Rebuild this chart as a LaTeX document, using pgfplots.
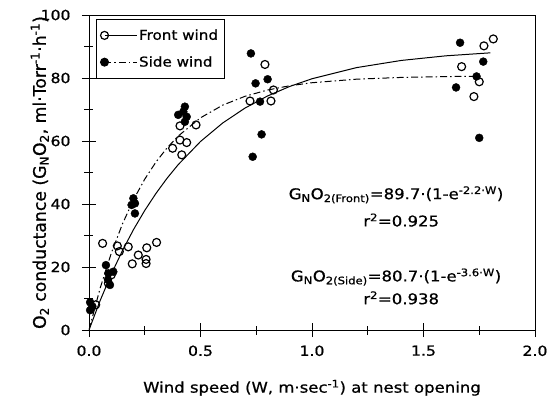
\documentclass[border=0pt]{standalone}
\usepackage{fontspec}
\setmainfont{DejaVu Sans}[FakeBold=0.8]
\newfontfamily\wide[FakeStretch=1.12,FakeBold=0.8]{DejaVu Sans}
\usepackage{pgfplots}
\pgfplotsset{compat=1.18}
\begin{document}
\begin{tikzpicture}
\begin{axis}[
 scale only axis, width=446bp, height=315bp,
 xmin=0,xmax=2,ymin=0,ymax=100,
 xtick={0,0.5,1,1.5,2}, minor xtick={0.25,0.75,1.25,1.75},
 ytick={0,20,40,60,80,100}, minor ytick={10,30,50,70,90},
 tick align=center, xtick pos=left, ytick pos=left,
 major tick length=14bp, minor tick length=9bp,
 tick style={black, line width=0.8pt},
 axis line style={line width=0.9pt},
 /pgf/number format/assume math mode=true,
 xticklabel style={/pgf/number format/fixed, /pgf/number format/fixed zerofill, /pgf/number format/precision=1, yshift=-5bp},
 yticklabel style={xshift=-8bp},
 ticklabel style={font=\wide\fontsize{14}{16}\selectfont},
 xlabel style={font=\wide\fontsize{14.8}{16}\selectfont, yshift=-17bp},
 ylabel style={font=\fontsize{17.3}{18}\selectfont, yshift=-15bp},
 xlabel={Wind speed (W, m·sec\textsuperscript{-1}) at nest opening},
 ylabel={O\textsubscript{2} conductance (G\textsubscript{N}O\textsubscript{2}, ml·Torr\textsuperscript{-1}·h\textsuperscript{-1})},
 legend style={at={(0.016,0.987)}, anchor=north west, draw=black, line width=0.8pt,
   font=\wide\fontsize{13.6}{16}\selectfont, row sep=11bp, inner xsep=4bp, inner ysep=8bp},
 legend cell align=left,
 legend image code/.code={\draw[mark repeat=2,mark phase=1,#1] plot coordinates {(0bp,0bp) (32bp,0bp)};},
]
\addlegendimage{black, line width=1pt, mark=o, mark size=4pt, mark options={solid, line width=1.2pt}}
\addlegendentry{Front wind}
\addlegendimage{black, line width=1pt, dash pattern=on 7pt off 3pt on 1.5pt off 3pt, mark=*, mark size=4pt, mark options={solid}}
\addlegendentry{Side wind}

% fitted curves (values of the printed equations)
\addplot[black, line width=1pt, forget plot] coordinates {
(0,0) (0.05,9.35) (0.1,17.71) (0.15,25.21) (0.2,31.93) (0.25,37.95) (0.3,43.33)
(0.35,48.17) (0.4,52.49) (0.5,59.84) (0.6,65.74) (0.7,70.47) (0.8,74.27)
(0.9,77.31) (1.0,79.76) (1.2,83.30) (1.4,85.57) (1.6,87.04) (1.8,87.99)};
\addplot[black, line width=1pt, dash pattern=on 7pt off 3pt on 1.5pt off 3pt, forget plot] coordinates {
(0,0) (0.05,13.29) (0.1,24.40) (0.15,33.67) (0.2,41.42) (0.25,47.89) (0.3,53.29)
(0.35,57.81) (0.4,61.58) (0.5,67.36) (0.6,71.40) (0.7,74.20) (0.8,76.17)
(0.9,77.54) (1.0,78.50) (1.2,79.63) (1.4,80.18) (1.6,80.45) (1.75,80.55)};

% Front wind (open)
\addplot[only marks, mark=o, mark size=4pt, mark options={line width=1.2pt}, black, forget plot] coordinates {
(0.03,8.0) (0.061,27.5) (0.087,14.8) (0.10,17.5) (0.127,26.7) (0.136,24.9)
(0.176,26.4) (0.194,21.0) (0.221,23.8) (0.256,22.4) (0.256,21.1) (0.259,26.1)
(0.303,27.8) (0.375,57.7) (0.408,60.3) (0.408,64.8) (0.416,55.6) (0.438,59.5)
(0.480,65.1) (0.722,72.7) (0.789,84.3) (0.816,72.7) (0.827,76.2) (1.671,83.6)
(1.726,74.1) (1.750,78.8) (1.771,90.2) (1.813,92.4)};
% Side wind (filled)
\addplot[only marks, mark=*, mark size=4pt, black, forget plot] coordinates {
(0.005,8.8) (0.005,6.3) (0.015,7.5) (0.076,20.6) (0.087,18.0) (0.109,18.5)
(0.094,14.3) (0.085,16.0) (0.191,39.7) (0.199,41.8) (0.206,40.2) (0.206,37.0)
(0.400,68.3) (0.423,69.3) (0.430,70.9) (0.438,67.7) (0.430,66.1) (0.726,87.8)
(0.734,55.0) (0.747,78.3) (0.767,72.5) (0.774,62.1) (0.801,79.6) (1.646,77.0)
(1.664,91.2) (1.738,80.5) (1.750,61.0) (1.768,85.2)};

\node[font=\wide\fontsize{14.8}{16}\selectfont] at (axis cs:1.377,42.9) {G\textsubscript{N}O\textsubscript{2(Front)}=89.7·(1-e\textsuperscript{-2.2·W})};
\node[font=\wide\fontsize{14.8}{16}\selectfont] at (axis cs:1.40,34.9) {r\textsuperscript{2}=0.925};
\node[font=\wide\fontsize{14.8}{16}\selectfont] at (axis cs:1.377,16.8) {G\textsubscript{N}O\textsubscript{2(Side)}=80.7·(1-e\textsuperscript{-3.6·W})};
\node[font=\wide\fontsize{14.8}{16}\selectfont] at (axis cs:1.40,10.2) {r\textsuperscript{2}=0.938};
\coordinate (ll) at (rel axis cs:0,0);
\coordinate (ur) at (rel axis cs:1,1);
\end{axis}
\pgfresetboundingbox
\path[use as bounding box] ([shift={(-89bp,-68bp)}]ll) rectangle ([shift={(15bp,15bp)}]ur);
\end{tikzpicture}
\end{document}
